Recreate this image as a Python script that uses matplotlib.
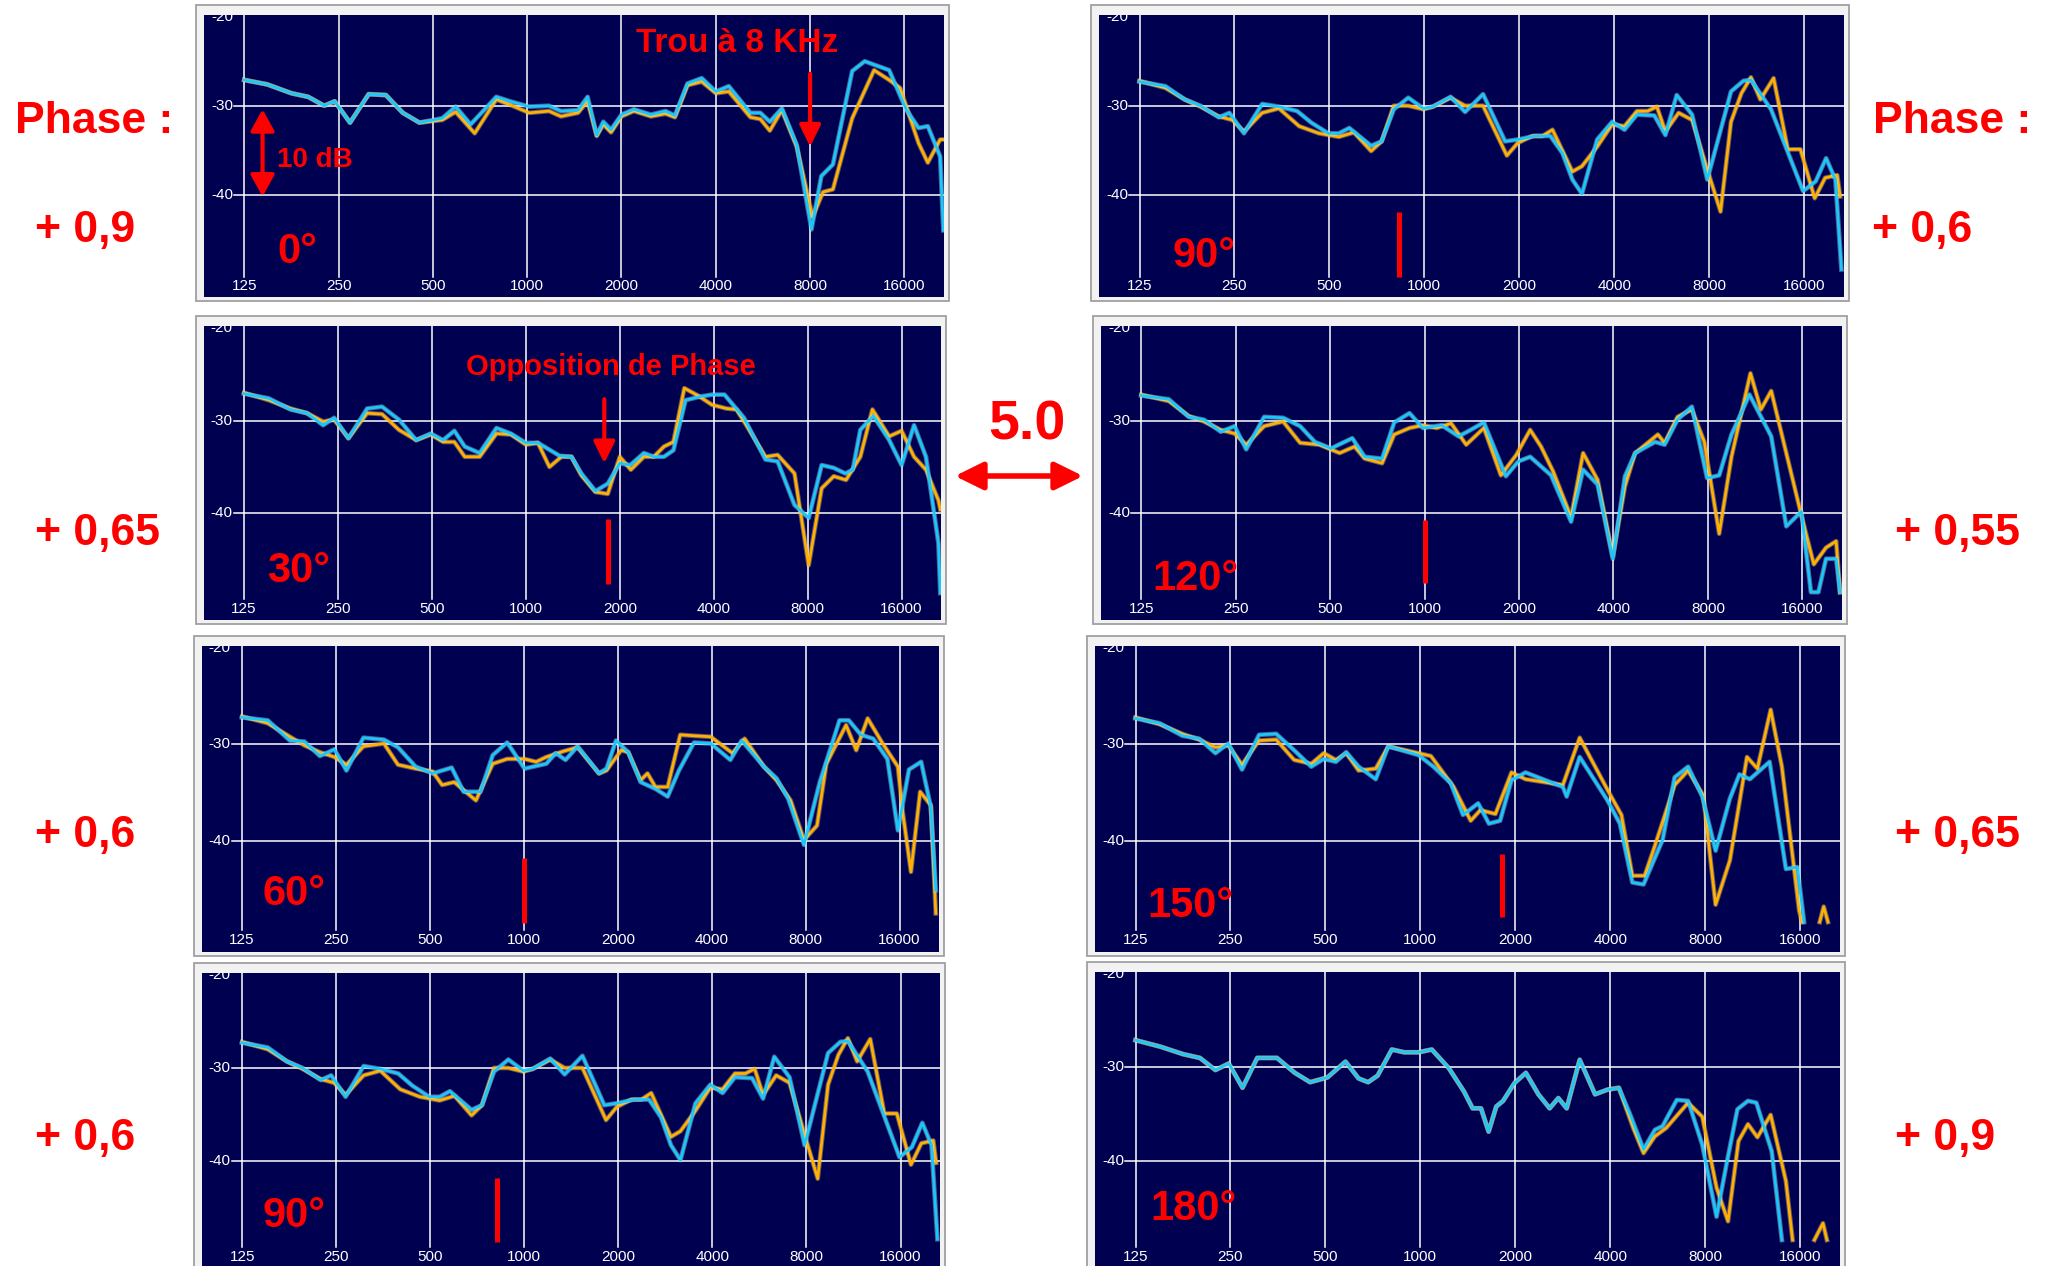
import matplotlib
matplotlib.use("Agg")
import matplotlib.pyplot as plt
from matplotlib.patches import Rectangle, FancyArrowPatch

W, H = 2053, 1266
NAVY = "#000050"
YELLOW = "#ffb000"
CYAN = "#18c8fa"
RED = "#ff0000"
NARROW = ["Liberation Sans Narrow", "Liberation Sans", "DejaVu Sans"]
SANS = ["Liberation Sans", "DejaVu Sans"]

# ---- axis annotations -------------------------------------------------------
x_ticks = [125, 250, 500, 1000, 2000, 4000, 8000, 16000]
y_grid = [-30, -40]

# ---- 0 degrees ---------------------------------------------------------------
f0_c = [125, 148, 177, 200, 225, 243, 272, 312, 354, 401, 453, 536, 591, 660, 797, 882, 1015,
        1174, 1282, 1453, 1559, 1667, 1750, 1852, 2000, 2190, 2483, 2764, 2962, 3249, 3607,
        4000, 4400, 5160, 5550, 5950, 6500, 7250, 8080, 8690, 9460, 10900, 11950, 14300,
        16200, 17750, 19000, 20800, 21300]
db0_c = [-27.1, -27.6, -28.6, -29.0, -30.0, -29.5, -31.9, -28.7, -28.8, -30.8, -31.9, -31.4,
         -30.1, -32.1, -29.0, -29.5, -30.1, -30.0, -30.6, -30.5, -29.0, -33.3, -31.8, -32.7,
         -31.0, -30.4, -31.0, -30.6, -31.1, -27.5, -26.9, -28.4, -27.8, -30.8, -30.8, -31.8,
         -30.3, -34.4, -43.9, -37.9, -36.6, -26.1, -25.0, -26.0, -30.4, -32.5, -32.3, -35.7,
         -44.0]
f0_y = [125, 148, 177, 200, 225, 243, 272, 312, 354, 401, 453, 536, 591, 680, 797, 882, 1015,
        1174, 1282, 1453, 1559, 1667, 1750, 1852, 2000, 2190, 2483, 2764, 2962, 3249, 3607,
        4000, 4400, 5160, 5550, 5950, 6500, 7250, 8150, 8800, 9460, 10900, 12800, 14300,
        15500, 17750, 19000, 20800, 21300]
db0_y = [-27.1, -27.6, -28.6, -29.0, -30.0, -29.5, -31.9, -28.7, -28.8, -30.8, -31.9, -31.6,
         -30.7, -33.1, -29.3, -29.9, -30.8, -30.6, -31.2, -30.8, -29.5, -33.4, -32.1, -33.0,
         -31.2, -30.6, -31.2, -30.9, -31.3, -27.7, -27.3, -28.6, -28.4, -31.3, -31.5, -32.8,
         -30.5, -34.6, -42.5, -39.7, -39.4, -31.4, -26.0, -27.1, -28.0, -34.2, -36.4, -33.8,
         -33.8]

# ---- 30 degrees --------------------------------------------------------------
f30_c = [125, 150, 176, 199, 224, 243, 270, 310, 346, 392, 445, 496, 543, 590, 637, 711, 805,
         895, 1000, 1093, 1283, 1400, 1506, 1670, 1830, 2000, 2160, 2390, 2570, 2770, 2970,
         3250, 3630, 3950, 4330, 5000, 5860, 6410, 7260, 8060, 8870, 9700, 10560, 11160,
         11800, 12990, 14600, 16000, 17540, 19150, 21000, 21300]
db30_c = [-27.1, -27.6, -28.8, -29.2, -30.5, -29.7, -31.9, -28.7, -28.5, -29.9, -32.1, -31.4,
          -32.1, -31.1, -32.8, -33.5, -30.8, -31.4, -32.4, -32.4, -33.8, -33.9, -35.7, -37.6,
          -36.8, -34.6, -34.8, -33.5, -33.9, -33.9, -33.2, -27.8, -27.4, -27.2, -27.2, -29.7,
          -34.2, -34.4, -39.1, -40.5, -34.8, -35.1, -35.7, -35.3, -31.0, -29.5, -32.1, -34.8,
          -30.5, -33.9, -43.2, -48.6]
f30_y = [125, 150, 176, 199, 224, 243, 270, 310, 346, 392, 445, 496, 543, 590, 637, 711, 805,
         895, 1000, 1093, 1190, 1300, 1400, 1506, 1670, 1830, 2000, 2170, 2390, 2570, 2770,
         2970, 3220, 3560, 3950, 4400, 4730, 5090, 5860, 6410, 7260, 8060, 8870, 9700, 10620,
         11800, 12900, 14600, 16000, 17540, 19150, 21000, 21300]
db30_y = [-27.0, -27.8, -28.7, -29.2, -30.1, -29.9, -31.9, -29.2, -29.3, -31.0, -32.1, -31.5,
          -32.3, -32.3, -33.9, -33.9, -31.4, -31.5, -32.6, -32.4, -35.0, -33.9, -33.9, -35.9,
          -37.7, -37.9, -33.9, -35.3, -33.9, -33.9, -32.8, -32.3, -26.5, -27.3, -28.3, -28.7,
          -28.8, -30.5, -33.9, -33.7, -35.7, -45.6, -37.3, -36.0, -36.4, -33.9, -28.8, -31.7,
          -31.1, -33.9, -35.3, -38.6, -39.6]

# ---- 60 degrees --------------------------------------------------------------
f60_c = [125, 151, 178, 198, 222, 247, 270, 306, 356, 395, 450, 510, 587, 641, 726, 795, 884,
         1005, 1180, 1265, 1360, 1487, 1741, 1840, 1973, 2160, 2367, 2640, 2890, 3140, 3510,
         3970, 4590, 4990, 5880, 6450, 7030, 7900, 8880, 10270, 11000, 12030, 13170, 14620,
         15800, 17150, 18760, 20150, 20900]
db60_c = [-27.2, -27.5, -29.6, -29.7, -31.2, -30.5, -32.7, -29.3, -29.5, -30.3, -32.3, -33.0,
          -32.4, -34.9, -34.9, -31.1, -29.8, -32.5, -32.0, -30.9, -31.6, -30.2, -33.0, -32.5,
          -29.6, -30.8, -33.9, -34.6, -35.4, -32.7, -29.8, -29.9, -31.6, -29.6, -32.3, -33.5,
          -35.6, -40.4, -33.9, -27.5, -27.5, -29.0, -29.4, -31.5, -38.9, -32.6, -31.8, -36.5,
          -45.1]
f60_y = [125, 151, 178, 198, 222, 247, 270, 306, 356, 395, 450, 510, 547, 598, 702, 795, 884,
         1005, 1095, 1180, 1340, 1487, 1741, 1840, 2050, 2160, 2367, 2490, 2640, 2890, 3170,
         3510, 3970, 4660, 5100, 5880, 6450, 7160, 7900, 8700, 9320, 10780, 11620, 12640,
         14120, 15800, 16340, 17400, 18620, 20150, 20900]
db60_y = [-27.1, -27.8, -29.2, -30.1, -30.8, -31.3, -32.1, -30.2, -29.9, -32.1, -32.5, -32.8,
          -34.2, -33.9, -35.8, -32.0, -31.5, -31.5, -31.8, -31.3, -30.7, -30.3, -33.0, -32.7,
          -30.6, -30.8, -33.7, -33.0, -34.4, -34.4, -29.0, -29.1, -29.2, -30.9, -29.4, -32.3,
          -33.7, -35.8, -39.9, -38.4, -32.0, -28.0, -30.6, -27.3, -29.9, -32.3, -36.8, -43.2,
          -34.9, -36.3, -47.5]

# ---- 90 degrees --------------------------------------------------------------
f90_c = [125, 151, 174, 195, 223, 241, 268, 306, 346, 395, 438, 496, 536, 578, 678, 732, 800,
         889, 993, 1065, 1211, 1346, 1535, 1803, 1976, 2246, 2508, 2738, 2947, 3160, 3530,
         3940, 4310, 4720, 5360, 5810, 6310, 7060, 7890, 9380, 10270, 10850, 12560, 15880,
         17400, 18780, 20100, 21000]
db90_c = [-27.3, -27.8, -29.3, -30.0, -31.3, -30.8, -33.1, -29.8, -30.1, -30.6, -31.9, -33.1,
          -33.1, -32.5, -34.5, -34.0, -30.4, -29.1, -30.3, -30.1, -29.0, -30.7, -28.7, -34.0,
          -33.8, -33.4, -33.4, -35.3, -38.3, -39.9, -33.8, -31.8, -32.7, -31.0, -31.1, -33.3,
          -28.8, -31.0, -38.3, -28.4, -27.2, -27.1, -30.4, -39.6, -38.5, -35.9, -38.3, -48.4]
f90_y = [125, 151, 174, 195, 223, 246, 268, 306, 346, 401, 463, 536, 598, 678, 732, 800, 889,
         993, 1065, 1211, 1346, 1535, 1826, 1976, 2200, 2370, 2548, 2947, 3160, 3530, 3940,
         4310, 4720, 5100, 5460, 5810, 6400, 7060, 7830, 8690, 9380, 10120, 10850, 11620,
         12800, 14200, 15570, 17280, 18650, 20370, 20800]
db90_y = [-27.2, -28.0, -29.3, -30.1, -31.2, -31.6, -32.9, -30.8, -30.3, -32.3, -33.1, -33.5,
          -33.0, -35.1, -34.0, -30.0, -30.0, -30.4, -30.1, -29.1, -30.0, -30.0, -35.6, -34.2,
          -33.4, -33.4, -32.7, -37.4, -36.8, -34.6, -32.1, -32.3, -30.6, -30.6, -30.1, -32.9,
          -30.8, -31.6, -36.8, -41.9, -31.8, -28.6, -26.8, -29.3, -26.9, -34.9, -34.9, -40.4,
          -38.1, -37.8, -40.2]

# ---- 120 degrees -------------------------------------------------------------
f120_c = [125, 153, 177, 198, 224, 248, 270, 308, 354, 401, 447, 503, 588, 644, 732, 800, 895,
          988, 1133, 1283, 1385, 1545, 1815, 1990, 2170, 2530, 2930, 3200, 3560, 3980, 4350,
          4690, 5430, 5820, 6400, 7110, 7950, 8690, 9510, 10850, 12730, 14220, 15880, 17040,
          18000, 19030, 20500, 21100]
db120_c = [-27.3, -27.7, -29.6, -29.9, -31.2, -30.6, -33.1, -29.6, -29.7, -30.6, -32.3, -33.0,
           -31.9, -33.9, -34.1, -30.2, -29.2, -30.8, -30.5, -31.7, -31.1, -30.2, -36.0, -34.4,
           -33.9, -35.9, -40.9, -35.3, -36.9, -44.9, -36.0, -33.5, -32.3, -32.6, -29.9, -28.5,
           -36.2, -35.9, -31.5, -27.2, -31.7, -41.4, -39.8, -48.5, -48.5, -44.9, -44.9, -48.5]
f120_y = [125, 153, 177, 198, 224, 248, 270, 308, 354, 401, 462, 536, 598, 644, 732, 800, 895,
          988, 1093, 1215, 1357, 1545, 1750, 1960, 2170, 2350, 2570, 2930, 3200, 3560, 3980,
          4350, 4690, 5540, 5820, 6400, 7110, 7790, 8690, 9510, 10930, 11800, 12730, 15880,
          17400, 19030, 20500, 21100]
db120_y = [-27.2, -27.9, -29.5, -30.1, -31.0, -31.4, -32.6, -30.6, -30.1, -32.4, -32.6, -33.5,
           -32.8, -34.1, -34.6, -31.5, -30.8, -30.5, -30.8, -30.3, -32.6, -30.8, -35.9, -33.7,
           -31.0, -32.8, -35.5, -40.4, -33.5, -36.4, -44.6, -37.1, -33.5, -31.5, -32.4, -29.6,
           -28.8, -32.3, -42.2, -33.9, -24.9, -28.8, -26.8, -40.2, -45.5, -43.7, -43.0, -48.5]

# ---- 150 degrees -------------------------------------------------------------
f150_c = [125, 149, 176, 199, 224, 246, 272, 308, 349, 398, 451, 494, 540, 582, 637, 722, 791,
          986, 1100, 1248, 1365, 1525, 1650, 1790, 1945, 2155, 2830, 2910, 3200, 3920, 4290,
          4700, 5100, 5860, 6400, 7060, 7830, 8630, 9580, 10270, 11080, 12800, 14420, 15680,
          16460]
db150_c = [-27.3, -27.8, -29.1, -29.4, -30.9, -29.9, -32.6, -29.0, -28.9, -30.6, -32.3, -31.5,
           -31.8, -30.8, -32.3, -33.6, -30.2, -31.1, -32.3, -34.0, -37.3, -36.1, -38.2, -37.9,
           -33.7, -32.9, -34.4, -35.4, -31.3, -35.8, -38.2, -44.3, -44.5, -39.9, -33.4, -32.3,
           -35.4, -41.0, -35.6, -33.1, -33.6, -31.8, -42.9, -42.7, -48.4]
f150_y = [125, 149, 176, 199, 224, 246, 272, 308, 349, 398, 451, 494, 540, 582, 637, 722, 791,
          986, 1080, 1275, 1444, 1550, 1730, 1945, 2155, 2830, 3200, 3920, 4340, 4700, 5140,
          5540, 6400, 7060, 7890, 8630, 9580, 10850, 11710, 12900, 14000, 15880, 16200]
db150_y = [-27.2, -27.9, -28.9, -29.5, -30.3, -30.1, -32.1, -29.6, -29.5, -31.6, -32.0, -30.9,
           -31.6, -30.9, -32.7, -32.5, -30.2, -30.9, -31.2, -34.4, -37.9, -36.8, -37.2, -32.9,
           -33.6, -34.2, -29.3, -34.7, -37.3, -43.6, -43.6, -40.5, -34.2, -32.7, -35.3, -46.6,
           -42.0, -31.3, -32.5, -26.4, -32.3, -47.2, -48.4]
f150_y_tail = [18450, 19000, 19600]
db150_y_tail = [-48.4, -46.8, -48.4]

# ---- 180 degrees (both traces share the low band) ----------------------------
f180_lo = [125, 150, 177, 200, 224, 247, 273, 304, 351, 400, 447, 507, 579, 637, 683, 732, 812,
           889, 986, 1087, 1231, 1375, 1464, 1557, 1646, 1741, 1830, 1987, 2160, 2367, 2570,
           2738, 2910, 3200, 3580, 3920, 4260]
db180_lo = [-27.1, -27.8, -28.6, -29.0, -30.3, -29.6, -32.2, -29.0, -29.0, -30.6, -31.6, -31.1,
            -29.4, -31.2, -31.6, -30.9, -28.1, -28.4, -28.4, -28.1, -30.1, -32.6, -34.4, -34.4,
            -36.9, -34.2, -33.6, -31.7, -30.6, -32.9, -34.4, -33.3, -34.4, -29.2, -32.9, -32.4,
            -32.2]
f180_c_hi = [4630, 5100, 5540, 5860, 6500, 7060, 7830, 8690, 9380, 10120, 10930, 11620, 13000,
             14000]
db180_c_hi = [-35.1, -38.8, -36.7, -36.3, -33.5, -33.6, -38.3, -46.0, -40.1, -34.5, -33.6,
              -33.8, -39.0, -48.5]
f180_y_hi = [4730, 5100, 5540, 6020, 7060, 7830, 8690, 9450, 10200, 10930, 11710, 12900, 14420,
             15140]
db180_y_hi = [-36.5, -39.2, -37.4, -36.5, -33.8, -35.3, -42.9, -46.5, -37.9, -36.1, -37.5,
              -35.1, -42.2, -48.5]
f180_y_tail = [17750, 18900, 19450]
db180_y_tail = [-48.5, -46.7, -48.5]

# ---- labels ------------------------------------------------------------------
angles = ["0°", "90°", "30°", "120°", "60°", "150°", "90°", "180°"]
phase_left = ["+ 0,9", "+ 0,65", "+ 0,6", "+ 0,6"]
phase_right = ["+ 0,6", "+ 0,55", "+ 0,65", "+ 0,9"]

# curve sets per panel: (yellow traces, cyan traces)
curves = [
    ([(f0_y, db0_y)], [(f0_c, db0_c)]),
    ([(f90_y, db90_y)], [(f90_c, db90_c)]),
    ([(f30_y, db30_y)], [(f30_c, db30_c)]),
    ([(f120_y, db120_y)], [(f120_c, db120_c)]),
    ([(f60_y, db60_y)], [(f60_c, db60_c)]),
    ([(f150_y, db150_y), (f150_y_tail, db150_y_tail)], [(f150_c, db150_c)]),
    ([(f90_y, db90_y)], [(f90_c, db90_c)]),
    ([(f180_lo + f180_y_hi, db180_lo + db180_y_hi), (f180_y_tail, db180_y_tail)],
     [(f180_lo + f180_c_hi, db180_lo + db180_c_hi)]),
]

# red crossover markers: (frequency, top dB, bottom dB)
markers = [None, (828, -42.0, -49.2), (1836, -40.6, -47.6), (1000, -40.7, -47.5),
           (1000, -41.8, -48.5), (1814, -41.3, -47.9), (817, -41.8, -48.7), None]

# ---- layout (pixel boxes of the plot areas) -----------------------------------
boxes = [(204, 15, 944, 297), (1099, 15, 1844, 297),
         (204, 326, 941, 620), (1101, 326, 1842, 620),
         (202, 646, 939, 952), (1095, 646, 1840, 952),
         (202, 973, 940, 1268), (1095, 972, 1840, 1268)]
angle_pos = [(277, 263), (1172, 267), (267, 582), (1152, 590),
             (263, 905), (1147, 917), (263, 1227), (1150, 1220)]
XLIM = (93, 21400)
YLIM = (-51.5, -19.8)


def fx(x):
    return x / W


def fy(y):
    return 1 - y / H


fig = plt.figure(figsize=(W / 100, H / 100), dpi=100)
fig.patch.set_facecolor("white")

axes = []
for i, (L, T, R, B) in enumerate(boxes):
    frame = Rectangle((fx(L - 8), fy(B + 4)), (R - L + 13) / W, (B - T + 14) / H,
                      transform=fig.transFigure, facecolor="#f2f2f2",
                      edgecolor="#a0a0a0", lw=1.3, zorder=-5)
    fig.add_artist(frame)
    ax = fig.add_axes([fx(L), fy(B), (R - L) / W, (B - T) / H])
    ax.set_facecolor(NAVY)
    ax.set_xscale("log")
    ax.set_xlim(*XLIM)
    ax.set_ylim(*YLIM)
    ax.tick_params(which="both", bottom=False, left=False, labelbottom=False, labelleft=False)
    for s in ax.spines.values():
        s.set_visible(False)

    for f in x_ticks:
        ax.plot([f, f], [YLIM[1], -49.2], color="white", lw=1.1, zorder=1)
        ax.text(f, -50.3, str(f), color="white", fontsize=11, family=SANS,
                ha="center", va="center", zorder=2)
    for y in y_grid:
        ax.plot([116, XLIM[1]], [y, y], color="white", lw=1.1, zorder=1)
        ax.text(115, y, str(y), color="white", fontsize=11, family=SANS,
                ha="right", va="center", zorder=2)
    ax.text(115, -20, "-20", color="white", fontsize=11, family=SANS,
            ha="right", va="center", zorder=2, clip_on=True)

    yel, cya = curves[i]
    for fr, db in yel:
        ax.plot(fr, db, color="#ffe08a", lw=3.4, alpha=0.4, zorder=3)
        ax.plot(fr, db, color=YELLOW, lw=2.0, zorder=4)
    for fr, db in cya:
        ax.plot(fr, db, color="#c8f4ff", lw=3.4, alpha=0.4, zorder=5)
        ax.plot(fr, db, color=CYAN, lw=2.0, zorder=6)

    if markers[i] is not None:
        mf, m1, m2 = markers[i]
        ax.plot([mf, mf], [m1, m2], color=RED, lw=3.6, solid_capstyle="butt", zorder=7)

    ax_x, ax_y = angle_pos[i]
    fig.text(fx(ax_x), fy(ax_y), angles[i], color=RED, fontsize=30, fontweight="bold",
             family=NARROW, ha="left", va="baseline")
    axes.append(ax)

# ---- annotations on the 0° panel -------------------------------------------
ax0 = axes[0]
ax0.add_patch(FancyArrowPatch((143, -30.4), (143, -40.2),
                              arrowstyle="<|-|>,head_length=0.65,head_width=0.36",
                              mutation_scale=20, color=RED, lw=3, shrinkA=0, shrinkB=0,
                              zorder=8))
ax0.add_patch(FancyArrowPatch((8000, -26.4), (8000, -34.6),
                              arrowstyle="-|>,head_length=0.65,head_width=0.32",
                              mutation_scale=20, color=RED, lw=3, shrinkA=0, shrinkB=0,
                              zorder=8))
fig.text(fx(277), fy(167), "10 dB", color=RED, fontsize=20, fontweight="bold",
         family=NARROW, ha="left", va="baseline")
fig.text(fx(636), fy(52), "Trou à 8 KHz", color=RED, fontsize=24, fontweight="bold",
         family=NARROW, ha="left", va="baseline")

# ---- annotations on the 30° panel ------------------------------------------
ax30 = axes[2]
ax30.add_patch(FancyArrowPatch((1784, -27.7), (1784, -34.6),
                               arrowstyle="-|>,head_length=0.65,head_width=0.32",
                               mutation_scale=20, color=RED, lw=3, shrinkA=0, shrinkB=0,
                               zorder=8))
fig.text(fx(466), fy(375), "Opposition de Phase", color=RED, fontsize=21, fontweight="bold",
         family=NARROW, ha="left", va="baseline")

# ---- central distance marker ---------------------------------------------
fig.text(fx(1027), fy(440), "5.0", color=RED, fontsize=40, fontweight="bold",
         family=SANS, ha="center", va="baseline")
fig.add_artist(FancyArrowPatch((fx(955), fy(476)), (fx(1083), fy(476)),
                               transform=fig.transFigure,
                               arrowstyle="<|-|>,head_length=0.85,head_width=0.42",
                               mutation_scale=20, color=RED, lw=4, shrinkA=0, shrinkB=0))

# ---- phase values on both sides ------------------------------------------
fig.text(fx(15), fy(133), "Phase :", color=RED, fontsize=32, fontweight="bold",
         family=SANS, ha="left", va="baseline")
fig.text(fx(1873), fy(133), "Phase :", color=RED, fontsize=32, fontweight="bold",
         family=SANS, ha="left", va="baseline")
left_base = [242, 545, 847, 1150]
for s, yb in zip(phase_left, left_base):
    fig.text(fx(35), fy(yb), s, color=RED, fontsize=32, fontweight="bold",
             family=SANS, ha="left", va="baseline")
right_x = [1872, 1895, 1895, 1895]
for s, xl, yb in zip(phase_right, right_x, left_base):
    fig.text(fx(xl), fy(yb), s, color=RED, fontsize=32, fontweight="bold",
             family=SANS, ha="left", va="baseline")

fig.savefig("out.png", dpi=100)
